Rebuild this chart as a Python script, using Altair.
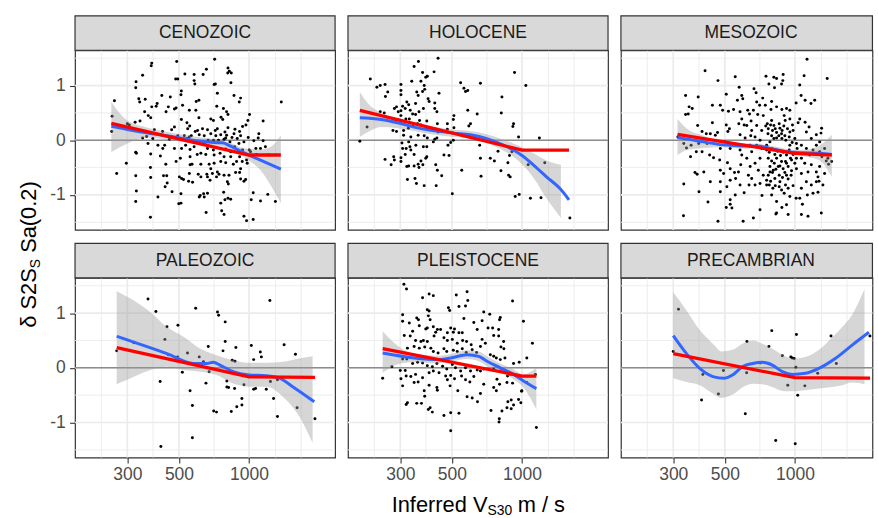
import altair as alt
import pandas as pd

FONT = "Liberation Sans"
PANELS = ["CENOZOIC", "HOLOCENE", "MESOZOIC", "PALEOZOIC", "PLEISTOCENE", "PRECAMBRIAN"]

X_MAJOR = [300, 500, 1000]
X_MINOR = [232, 387, 707, 1300, 1675]
Y_MAJOR = [-1, 0, 1]
Y_MINOR = [-1.5, -0.5, 0.5, 1.5]
X_DOMAIN = [178.8, 2343]
X_DOMAIN_CUT = [178.8, 2153]   # right-hand column is cut by the picture edge
Y_DOMAIN = [-1.64, 1.645]

# ---- scatter points (Vs30, residual) ----
CEN = [(712,1.48),(489,1.44),(382,1.41),(380,1.36),(812,1.32),(823,1.26),(839,1.23),(810,1.23),(656,1.30),(530,1.21),(349,1.19),(581,1.20),(635,1.20),(484,1.12),(494,1.12),(717,1.03),(708,1.02),(327,1.07),(581,1.09),(585,1.03),(836,1.05),(326,0.96),(512,0.90),(510,0.83),(731,0.86),(422,0.82),(920,0.77),(862,0.82),(264,0.72),(1376,0.70),(908,0.70),(609,0.73),(593,0.71),(336,0.76),(339,0.70),(358,0.75),(459,0.79),(403,0.67),(382,0.61),(399,0.62),(450,0.61),(440,0.52),(478,0.57),(486,0.59),(518,0.64),(554,0.55),(727,0.62),(801,0.52),(776,0.58),(812,0.47),(591,0.55),(356,0.52),(369,0.45),(378,0.41),(258,0.44),(1005,0.47),(1150,0.35),(324,0.33),(340,0.35),(300,0.30),(349,0.04),(363,0.07),(306,0.28),(685,0.39),(703,0.36),(609,0.41),(512,0.38),(541,0.32),(556,0.26),(545,0.21),(758,0.42),(771,0.38),(812,0.23),(870,0.20),(911,0.16),(938,0.25),(970,0.28),(989,0.36),(1102,0.12),(1095,0.04),(478,0.24),(465,0.19),(587,0.16),(601,0.18),(631,0.21),(663,0.19),(716,0.18),(731,0.21),(788,0.15),(801,0.09),(257,0.16),(392,0.19),(425,0.16),(527,0.08),(554,0.06),(565,0.08),(642,0.08),(667,0.0),(703,0.0),(739,0.0),(781,0.02),(845,0.05),(890,0.03),(920,0.08),(992,0.05),(1049,-0.01),(1150,-0.01),(1176,-0.12),(1070,-0.15),(1002,-0.18),(938,-0.18),(867,-0.12),(834,-0.21),(794,-0.16),(756,-0.15),(751,-0.24),(703,-0.18),(663,-0.15),(581,-0.12),(558,-0.17),(534,-0.09),(513,-0.15),(478,-0.15),(434,-0.09),(368,-0.06),(326,-0.22),(328,-0.24),(297,-0.42),(270,-0.61),(378,-0.25),(416,-0.29),(439,-0.44),(486,-0.39),(507,-0.33),(558,-0.30),(599,-0.26),(621,-0.24),(652,-0.26),(558,-0.45),(569,-0.44),(621,-0.44),(674,-0.44),(708,-0.42),(685,-0.52),(731,-0.58),(756,-0.39),(794,-0.41),(834,-0.30),(884,-0.39),(911,-0.30),(976,-0.36),(982,-0.42),(920,-0.52),(876,-0.59),(820,-0.64),(781,-0.64),(743,-0.62),(725,-0.67),(696,-0.61),(659,-0.62),(621,-0.67),(605,-0.62),(554,-0.61),(502,-0.67),(513,-0.70),(523,-0.72),(572,-0.77),(550,-0.75),(429,-0.65),(443,-0.65),(377,-0.50),(326,-0.65),(378,-0.68),(445,-0.78),(436,-0.85),(467,-0.94),(510,-0.98),(328,-0.93),(326,-1.12),(406,-1.04),(510,-1.15),(499,-1.16),(617,-1.01),(611,-1.04),(638,-0.98),(642,-1.04),(663,-0.97),(756,-1.15),(788,-1.09),(812,-1.06),(834,-1.08),(778,-0.95),(807,-0.76),(815,-0.80),(951,-0.75),(967,-0.72),(920,-0.71),(911,-0.59),(1042,-0.96),(1022,-1.09),(1120,-1.11),(1204,-0.99),(1298,-1.12),(654,-1.32),(763,-1.29),(781,-1.36),(951,-1.39),(976,-1.47),(1042,-1.45),(377,-1.41),(663,-0.67),(680,-0.73),
       (685,0.12),(720,0.08),(756,0.10),(794,0.04),(828,-0.03),(862,0.12),(905,-0.06),(951,-0.03),(646,-0.04),(611,0.10),(572,-0.03),(541,0.03),(494,0.08),(455,0.02),(426,-0.15),(406,-0.09),(386,0.03),(708,-0.27),(781,-0.30),(856,-0.44),(935,-0.39),(1015,-0.21),(1077,-0.26),(1120,-0.15),(1216,-0.27)]

HOL = [(436,1.50),(359,1.44),(344,1.35),(419,1.25),(374,1.24),(392,1.17),(386,1.15),(223,1.12),(336,1.08),(368,1.08),(246,1.00),(258,1.02),(238,0.97),(302,1.02),(380,1.00),(265,0.88),(259,0.80),(302,0.91),(302,0.83),(545,1.05),(663,1.04),(563,0.95),(572,0.89),(585,0.91),(440,0.86),(353,0.88),(358,0.82),(374,0.89),(382,0.93),(395,0.76),(399,0.71),(422,0.68),(349,0.67),(320,0.70),(326,0.65),(307,0.62),(289,0.61),(283,0.58),(294,0.52),(302,0.54),(315,0.58),(331,0.55),(339,0.48),(349,0.47),(361,0.52),(377,0.58),(422,0.58),(431,0.52),(363,0.36),(328,0.39),(317,0.39),(302,0.45),(287,0.36),(276,0.35),(246,0.52),(216,0.24),(256,0.50),(279,0.18),(289,0.16),(310,0.18),(325,0.22),(340,0.26),(356,0.30),(368,0.28),(390,0.35),(392,0.22),(416,0.19),(433,0.30),(478,0.30),(510,0.45),(507,0.38),(585,0.55),(642,0.48),(601,0.30),(591,0.26),(510,0.23),(478,0.20),(436,0.15),(422,0.02),(431,0.04),(416,-0.03),(392,0.04),(380,0.08),(358,0.09),(333,0.06),(310,0.09),(305,-0.05),(326,-0.03),(350,-0.09),(330,-0.12),(318,-0.15),(307,-0.15),(333,-0.18),(344,-0.26),(315,-0.26),(377,-0.12),(390,-0.12),(390,-0.30),(386,-0.33),(368,-0.38),(358,-0.44),(375,-0.45),(361,-0.50),(344,-0.47),(326,-0.47),(320,-0.48),(302,-0.39),(302,-0.32),(281,-0.30),(283,-0.36),(258,-0.35),(274,-0.45),(201,-0.02),(481,-0.09),(494,-0.04),(507,0.0),(486,-0.28),(462,-0.27),(426,-0.45),(433,-0.55),(452,-0.65),(322,-0.72),(347,-0.70),(352,-0.79),(380,-0.83),(428,-0.83),(502,-0.98),(551,-0.55),(658,-0.09),(663,-0.33),(667,-0.66),(731,-0.33),(761,-0.38),(789,-0.20),(812,-0.56),(815,0.50),(820,0.79),(870,-0.41),(884,-0.28),(890,-0.67),(876,-0.64),(905,-0.21),(920,0.30),(914,0.25),(929,1.24),(967,0.06),(973,-0.99),(935,-1.03),(1039,1.00),(1063,-0.45),(1087,-1.06),(1188,0.04),(1207,-1.05),(1253,-0.41),(1606,-1.42)]

MES = [(1127,1.48),(411,1.27),(554,1.16),(751,1.17),(812,1.15),(834,1.13),(890,1.20),(1095,1.18),(1376,1.13),(467,1.09),(773,1.03),(876,1.03),(887,1.09),(817,0.96),(576,0.97),(667,0.94),(1049,1.01),(339,0.82),(384,0.79),(507,0.84),(591,0.82),(597,0.76),(566,0.73),(681,0.87),(727,0.77),(794,0.71),(1063,0.82),(1106,0.73),(1216,0.73),(1172,0.67),(351,0.61),(442,0.64),(362,0.58),(478,0.64),(489,0.55),(518,0.53),(545,0.56),(581,0.52),(627,0.55),(685,0.70),(705,0.64),(746,0.64),(789,0.56),(834,0.61),(879,0.56),(920,0.58),(951,0.55),(1012,0.68),(348,0.48),(339,0.47),(382,0.27),(399,0.16),(416,0.12),(433,0.12),(442,0.32),(465,0.14),(507,0.28),(523,0.21),(515,0.16),(574,0.30),(591,0.39),(605,0.28),(648,0.35),(663,0.55),(638,0.48),(692,0.47),(731,0.45),(761,0.30),(794,0.36),(812,0.27),(856,0.30),(899,0.45),(908,0.36),(951,0.39),(976,0.28),(1032,0.32),(1049,0.39),(1106,0.33),(1150,0.24),(1236,0.10),(1302,0.22),(1294,0.13),(314,0.06),(333,-0.06),(358,-0.09),(377,-0.21),(356,-0.30),(342,-0.14),(386,-0.06),(430,-0.27),(447,-0.32),(475,-0.36),(513,-0.41),(527,-0.52),(563,-0.09),(581,-0.18),(611,-0.10),(642,-0.09),(674,0.06),(708,0.0),(756,-0.09),(781,-0.03),(834,0.04),(876,0.12),(905,0.08),(951,-0.09),(999,0.03),(1066,-0.09),(1120,-0.15),(1196,-0.18),(1277,-0.21),(1363,-0.38),(1437,-0.39),(1395,-0.44),(1306,-0.30),(1157,-0.27),(1066,-0.33),(1015,-0.33),(967,-0.36),(920,-0.42),(876,-0.39),(848,-0.48),(807,-0.55),(781,-0.58),(768,-0.64),(756,-0.73),(820,-0.70),(862,-0.76),(920,-0.64),(967,-0.56),(1015,-0.52),(1066,-0.61),(1138,-0.58),(1236,-0.58),(1256,-0.67),(1269,-0.75),(1319,-0.82),(372,-0.59),(380,-0.62),(478,-0.55),(494,-0.61),(550,-0.59),(556,-0.70),(585,-0.45),(631,-0.64),(652,-0.70),(696,-0.55),(708,-0.79),(731,-0.64),(776,-0.82),(804,-0.88),(856,-0.85),(899,-0.97),(951,-1.03),(1012,-1.06),(1049,-1.06),(1077,-1.17),(1131,-1.00),(1196,-0.97),(1256,-0.95),(1236,-0.76),(333,-0.80),(387,-0.94),(423,-1.13),(478,-0.94),(510,-0.85),(527,-1.09),(536,-1.24),(554,-1.00),(581,-0.82),(605,-0.96),(635,-0.82),(674,-0.82),(722,-1.01),(708,-1.27),(794,-1.00),(834,-1.12),(879,-1.23),(920,-1.18),(935,-1.36),(834,-1.33),(828,-1.35),(663,-1.42),(599,-1.48),(467,-1.48),(507,-1.23),(527,-1.17),(1066,-1.36),(1138,-1.39),(1298,-1.33),(332,-1.38),
       (749,0.26),(768,0.21),(786,0.28),(801,0.18),(823,0.21),(834,0.14),(862,0.22),(881,0.18),(896,0.26),(929,0.21),(951,0.15),(982,0.18),(766,0.12),(794,0.08),(812,0.03),(853,0.08),(879,0.03),(914,0.0),(945,0.06),(973,-0.04),(1015,-0.06),(756,-0.18),(776,-0.22),(796,-0.15),(820,-0.26),(842,-0.20),(867,-0.28),(890,-0.22),(920,-0.27),(945,-0.18),(982,-0.26),(1022,-0.15),(768,-0.33),(794,-0.38),(815,-0.42),(834,-0.33),(862,-0.47),(890,-0.52),(911,-0.39),(935,-0.48),(957,-0.33),(999,-0.42),(781,-0.48),(801,-0.59),(828,-0.53),(856,-0.64),(884,-0.68),(905,-0.59),(935,-0.71),(963,-0.64),(756,-0.82),(786,-0.75),(823,-0.83),(876,-0.91),(911,-0.82),(935,-0.88),(982,-0.83),(621,0.27),(652,0.18),(685,0.27),(720,0.18),(581,0.10),(611,0.04),(646,0.08),(685,-0.09),(720,-0.15),(652,-0.21),(621,-0.33),(591,-0.27),(527,-0.15),(499,-0.03),(478,-0.15),(455,0.09),(419,-0.06),(399,-0.21),(708,-0.33),(674,-0.42),(642,-0.48),(572,-0.58),(527,-0.73),(478,-0.76),(433,-0.76),(406,-0.58),(1120,0.15),(1176,0.03),(1236,-0.09),(1277,-0.03),(1102,-0.42),(1176,-0.45),(1277,-0.48),(1341,-0.15),(1066,-0.88),(1120,-0.76),(1176,-0.82),(1341,-0.61),(1386,-0.33)]

PAL = [(270,0.31),(320,0.46),(368,1.26),(398,1.03),(415,-0.25),(418,-1.44),(435,0.52),(444,0.75),(450,0.24),(495,0.78),(493,0.20),(517,-0.08),(544,0.27),(558,-0.42),(571,-0.69),(571,-1.28),(590,1.09),(611,0.20),(637,0.11),(653,-0.28),(668,0.39),(674,-0.07),(705,-0.79),(725,-0.81),(732,1.02),(740,0.96),(773,0.31),(790,0.84),(790,0.48),(803,-0.24),(803,-0.35),(817,-0.36),(839,-0.80),(847,0.14),(870,0.12),(878,0.37),(867,-0.38),(886,-0.71),(932,-0.68),(932,-0.56),(951,-0.31),(1023,0.41),(1047,0.15),(1047,-0.39),(1067,-0.38),(1118,0.29),(1130,0.20),(1186,-0.39),(1229,1.23),(1236,-0.25),(1275,-0.56),(1325,-0.22),(1325,-0.89),(1415,0.42),(1583,0.25),(1609,-0.73),(1920,-0.93)]

PLE = [(311,1.53),(319,1.44),(399,1.35),(416,1.32),(374,1.28),(522,1.33),(581,1.39),(585,1.23),(536,1.12),(483,1.10),(489,1.05),(572,1.13),(911,1.22),(392,1.06),(399,1.04),(307,0.97),(353,0.91),(359,0.88),(307,0.85),(328,0.82),(362,0.77),(392,0.73),(386,0.71),(416,0.75),(433,0.70),(396,0.95),(403,0.88),(494,0.73),(513,0.71),(507,0.65),(536,0.64),(554,0.64),(563,0.90),(621,0.83),(674,0.86),(685,1.02),(727,0.98),(807,0.92),(801,0.88),(1015,0.85),(715,0.73),(748,0.73),(794,0.70),(642,0.70),(339,0.67),(331,0.58),(312,0.59),(349,0.50),(368,0.48),(377,0.50),(392,0.48),(419,0.58),(426,0.65),(447,0.70),(478,0.64),(478,0.50),(462,0.55),(502,0.52),(527,0.45),(556,0.50),(578,0.48),(605,0.42),(674,0.52),(696,0.45),(756,0.59),(794,0.58),(834,0.48),(812,0.38),(836,0.35),(1109,0.45),(322,0.36),(344,0.39),(362,0.36),(382,0.38),(406,0.36),(416,0.30),(436,0.27),(462,0.35),(475,0.30),(507,0.32),(527,0.30),(554,0.35),(576,0.28),(611,0.33),(638,0.28),(663,0.39),(731,0.24),(756,0.21),(776,0.18),(807,0.15),(845,0.18),(920,0.08),(973,0.10),(1049,0.18),(307,0.16),(320,0.16),(339,0.08),(356,0.10),(374,0.09),(392,0.04),(412,0.02),(431,0.08),(456,0.03),(475,-0.02),(502,0.06),(518,0.0),(545,-0.06),(572,0.0),(601,-0.06),(642,-0.04),(685,-0.02),(756,-0.02),(807,-0.06),(890,-0.12),(252,-0.19),(276,0.02),(300,-0.05),(315,-0.05),(302,-0.20),(307,-0.33),(318,-0.15),(333,-0.16),(344,-0.27),(358,-0.26),(349,-0.12),(374,-0.18),(399,-0.09),(416,-0.06),(440,-0.09),(470,-0.15),(494,-0.14),(513,-0.20),(550,-0.15),(572,-0.22),(597,-0.26),(621,-0.16),(663,-0.06),(685,-0.30),(781,-0.21),(801,-0.30),(756,-0.36),(776,-0.42),(867,-0.15),(862,-0.27),(911,-0.28),(999,-0.42),(1049,-0.27),(1142,-0.12),(322,-0.64),(318,-0.67),(353,-0.65),(370,-0.65),(382,-0.52),(403,-0.73),(412,-0.81),(396,-0.76),(380,-0.42),(399,-0.32),(431,-0.36),(433,-0.41),(478,-0.22),(491,-0.33),(530,-0.42),(581,-0.53),(611,-0.55),(644,-0.62),(663,-0.47),(736,-0.78),(799,-0.93),(797,-0.99),(820,-0.79),(862,-0.73),(870,-0.62),(899,-0.59),(920,-0.68),(899,-0.75),(967,-0.58),(989,-0.64),(996,-0.43),(494,-0.82),(462,-0.87),(536,-0.83),(494,-1.15),(1153,-1.09)]

PRE = [(300,0.30),(316,1.07),(397,-0.59),(402,-0.12),(469,-0.48),(493,-0.05),(612,-0.84),(622,0.48),(620,-0.09),(709,0.09),(773,0.39),(795,0.68),(827,-1.33),(883,0.22),(932,-0.32),(960,0.20),(973,0.18),(992,0.17),(1009,0.01),(1015,0.61),(1003,-1.39),(1028,-0.50),(1103,-0.33),(1253,-0.10),(1429,0.58),(1506,0.08),(2100,0.58)]

POINTS = [CEN, HOL, MES, PAL, PLE, PRE]

# ---- loess smooth (blue) ----
BLUE = [
    [(256,0.255),(344,0.152),(478,0.061),(621,-0.018),(708,-0.042),(768,-0.048),(834,-0.109),(920,-0.2),(1000,-0.273),(1120,-0.364),(1370,-0.527)],
    [(201,0.41),(248,0.38),(292,0.32),(344,0.24),(406,0.18),(510,0.13),(600,0.10),(707,0.03),(833,-0.09),(919,-0.18),(1000,-0.28),(1118,-0.45),(1275,-0.67),(1453,-0.88),(1592,-1.09)],
    [(313,0.055),(344,0.02),(406,-0.03),(478,-0.08),(563,-0.10),(708,-0.11),(781,-0.15),(920,-0.21),(1084,-0.23),(1277,-0.236),(1440,-0.26)],
    [(270,0.576),(320,0.47),(444,0.26),(577,0.08),(658,0.08),(702,0.10),(750,0.05),(855,-0.07),(1000,-0.13),(1186,-0.145),(1352,-0.19),(1540,-0.345),(1907,-0.62)],
    [(252,0.27),(344,0.18),(433,0.15),(494,0.18),(581,0.24),(652,0.21),(708,0.12),(807,0.0),(920,-0.12),(1015,-0.24),(1153,-0.38)],
    [(300,0.59),(342,0.26),(390,-0.01),(444,-0.16),(498,-0.19),(540,-0.13),(599,0.03),(658,0.08),(725,0.10),(800,0.05),(883,-0.07),(977,-0.12),(1110,-0.10),(1267,-0.01),(1490,0.17),(1756,0.41),(2080,0.65)],
]

# ---- confidence band (x, low, high) ----
BAND = [
    [(256,-0.22,0.70),(300,-0.06,0.36),(367,0.05,0.23),(478,-0.01,0.13),(621,-0.08,0.05),(708,-0.10,0.02),(834,-0.17,-0.05),(920,-0.27,-0.13),(1000,-0.37,-0.16),(1120,-0.55,-0.17),(1250,-0.85,-0.11),(1370,-1.15,0.09)],
    [(201,0.06,0.88),(218,0.15,0.67),(248,0.24,0.50),(292,0.22,0.40),(344,0.17,0.31),(406,0.11,0.25),(510,0.06,0.19),(600,0.03,0.17),(707,-0.05,0.11),(833,-0.19,0.01),(919,-0.30,-0.06),(1000,-0.44,-0.13),(1118,-0.68,-0.24),(1275,-1.06,-0.37),(1470,-1.42,-0.45)],
    [(313,-0.27,0.39),(344,-0.18,0.21),(406,-0.14,0.08),(478,-0.13,-0.03),(581,-0.15,-0.05),(708,-0.15,-0.07),(833,-0.22,-0.12),(1000,-0.27,-0.18),(1120,-0.30,-0.17),(1277,-0.37,-0.10),(1440,-0.67,0.10)],
    [(270,-0.30,1.40),(320,-0.164,1.23),(377,-0.042,1.018),(444,0.018,0.745),(525,-0.042,0.564),(616,-0.073,0.352),(725,-0.133,0.23),(855,-0.285,0.139),(1004,-0.345,0.091),(1186,-0.345,0.091),(1397,-0.527,0.109),(1645,-0.891,0.17),(1876,-1.376,0.212)],
    [(252,-0.09,0.67),(302,0.08,0.36),(344,0.10,0.26),(433,0.08,0.22),(494,0.11,0.25),(581,0.16,0.32),(652,0.12,0.30),(708,0.03,0.21),(807,-0.08,0.08),(920,-0.21,-0.03),(1015,-0.36,-0.12),(1153,-0.76,0.0)],
    [(300,-0.19,1.38),(342,-0.26,1.05),(390,-0.32,0.69),(444,-0.47,0.44),(483,-0.55,0.30),(540,-0.49,0.33),(600,-0.35,0.45),(660,-0.29,0.50),(725,-0.30,0.44),(800,-0.35,0.35),(900,-0.43,0.22),(977,-0.43,0.17),(1110,-0.41,0.20),(1270,-0.38,0.33),(1440,-0.35,0.55),(1600,-0.32,0.75),(1756,-0.27,0.96),(1990,-0.30,1.44)],
]

# ---- piecewise model (red) ----
RED = [
    [(256,0.31),(1000,-0.27),(1370,-0.27)],
    [(201,0.545),(1000,-0.18),(1592,-0.18)],
    [(313,0.105),(1000,-0.24),(1440,-0.27)],
    [(270,0.37),(1000,-0.165),(1920,-0.175)],
    [(252,0.35),(1000,-0.15),(1153,-0.15)],
    [(300,0.26),(1000,-0.18),(2103,-0.19)],
]

W, H = 262, 181
W_CUT = 253.4
STRIP_H = 34.7
AX_COLOR = "#4D4D4D"


def make_panel(i):
    name = PANELS[i]
    col, row = i % 3, i // 3
    w = W_CUT if col == 2 else W
    xs = alt.Scale(type="log", domain=X_DOMAIN_CUT if col == 2 else X_DOMAIN, nice=False, zero=False)
    ys = alt.Scale(domain=Y_DOMAIN, nice=False, zero=False)
    if row == 1:
        xax = alt.Axis(values=X_MAJOR, format="d", grid=False, domain=False,
                       tickSize=5.5, tickColor="#333333", tickWidth=1.1,
                       labelFontSize=17.6, labelColor=AX_COLOR, labelPadding=3,
                       labelFont=FONT, title=None, labelFlush=False, labelOverlap=False)
    else:
        xax = None
    if col == 0:
        yax = alt.Axis(values=Y_MAJOR, labelExpr="'' + datum.value", grid=False, domain=False,
                       tickSize=5.5, tickColor="#333333", tickWidth=1.1,
                       labelFontSize=17.6, labelColor=AX_COLOR, labelPadding=4.4,
                       labelFont=FONT, title=None, labelFlush=False, labelOverlap=False)
    else:
        yax = None

    def X(f):
        return alt.X(f, type="quantitative", scale=xs, axis=xax)

    def Y(f):
        return alt.Y(f, type="quantitative", scale=ys, axis=yax)

    layers = []
    layers.append(alt.Chart(pd.DataFrame({"g": X_MINOR})).mark_rule(color="#EBEBEB", strokeWidth=0.9).encode(x=X("g")))
    layers.append(alt.Chart(pd.DataFrame({"g": Y_MINOR})).mark_rule(color="#EBEBEB", strokeWidth=0.9).encode(y=Y("g")))
    layers.append(alt.Chart(pd.DataFrame({"g": X_MAJOR})).mark_rule(color="#EBEBEB", strokeWidth=1.7).encode(x=X("g")))
    layers.append(alt.Chart(pd.DataFrame({"g": Y_MAJOR})).mark_rule(color="#EBEBEB", strokeWidth=1.7).encode(y=Y("g")))
    layers.append(alt.Chart(pd.DataFrame({"g": [0]})).mark_rule(color="#8C8C8C", strokeWidth=1.5).encode(y=Y("g")))

    pts = pd.DataFrame(POINTS[i], columns=["v", "r"])
    layers.append(alt.Chart(pts).mark_circle(size=9, color="black", opacity=1).encode(x=X("v"), y=Y("r")))

    band = pd.DataFrame(BAND[i], columns=["v", "lo", "hi"])
    layers.append(alt.Chart(band).mark_area(color="#999999", opacity=0.4, interpolate="monotone").encode(
        x=X("v"), y=Y("lo"), y2=alt.Y2("hi")))

    blue = pd.DataFrame(BLUE[i], columns=["v", "r"])
    layers.append(alt.Chart(blue).mark_line(color="#3366FF", strokeWidth=3, interpolate="monotone").encode(x=X("v"), y=Y("r")))

    red = pd.DataFrame(RED[i], columns=["v", "r"])
    layers.append(alt.Chart(red).mark_line(color="#FF0000", strokeWidth=3.3).encode(x=X("v"), y=Y("r")))

    sdf = pd.DataFrame({"name": [name]})
    layers.append(alt.Chart(sdf).mark_rect(fill="#D9D9D9", stroke="#333333", strokeWidth=1.2).encode(
        x=alt.value(0), x2=alt.value(w), y=alt.value(-STRIP_H), y2=alt.value(0)))
    layers.append(alt.Chart(sdf).mark_text(fontSize=17.6, color="#1A1A1A", font=FONT, baseline="middle").encode(
        x=alt.value(W / 2), y=alt.value(-STRIP_H / 2), text="name:N"))

    if i == 3:
        segs = [("δ S2S", 22, -39, 50.2), ("S", 14, -35.5, -9.8), ("Sa(0.2)", 22, -39, -25.2)]
        for t, fs, xv, yv in segs:
            layers.append(alt.Chart(pd.DataFrame({"t": [t]})).mark_text(
                angle=270, align="left", baseline="alphabetic", fontSize=fs, font=FONT, color="black").encode(
                x=alt.value(xv), y=alt.value(yv), text="t:N"))
    if i == 4:
        segs = [("Inferred V", 22, 44, 235.7), ("S30", 14, 140.6, 238.7), ("m / s", 22, 171, 235.7)]
        for t, fs, xv, yv in segs:
            layers.append(alt.Chart(pd.DataFrame({"t": [t]})).mark_text(
                align="left", baseline="alphabetic", fontSize=fs, font=FONT, color="black").encode(
                x=alt.value(xv), y=alt.value(yv), text="t:N"))

    return alt.layer(*layers).properties(width=w, height=H)


panels = [make_panel(i) for i in range(6)]

chart = alt.concat(
    *panels, columns=3,
    spacing=alt.RowColnumber(row=48.3, column=13),
    bounds="flush",
).properties(
    padding={"left": 17.6, "top": 12.7, "right": 0, "bottom": 0},
    background="white",
).configure(font=FONT).configure_view(stroke="#333333", strokeWidth=1.2)

chart.save("out.html", embed_options={"renderer": "svg", "actions": False})
